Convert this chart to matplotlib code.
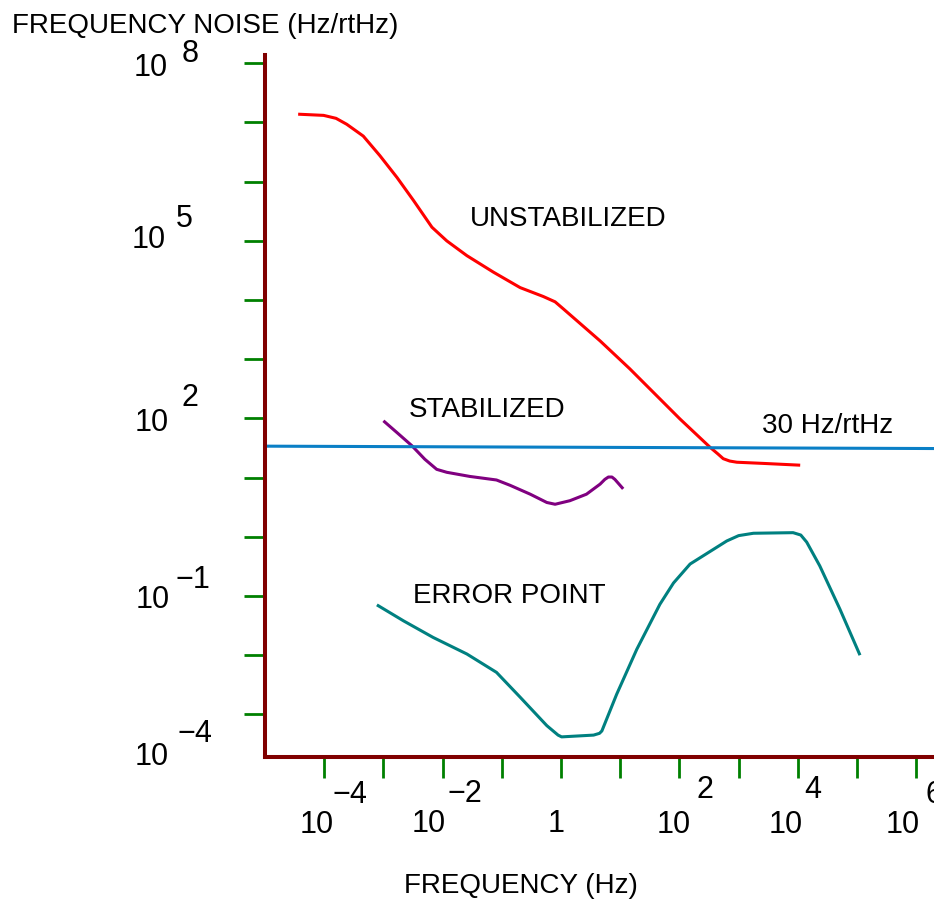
import numpy as np
import matplotlib
matplotlib.use("Agg")
import matplotlib.pyplot as plt
from matplotlib.transforms import blended_transform_factory

plt.rcParams["font.family"] = ["Liberation Sans", "DejaVu Sans"]

# ---- data (log10 of frequency / log10 of noise) ----
unstab_logf = [-4.44, -4.01, -3.80, -3.62, -3.34, -3.06, -2.77, -2.49, -2.18, -1.93, -1.59,
               -1.14, -0.69, -0.30, -0.10, 0.04, 0.66, 1.16, 1.67, 2.01, 2.52, 2.65, 2.74,
               2.85, 2.97, 3.42, 4.04]
unstab_logv = [7.14, 7.12, 7.07, 6.97, 6.77, 6.44, 6.07, 5.68, 5.23, 5.00, 4.75,
               4.47, 4.21, 4.06, 3.97, 3.85, 3.31, 2.84, 2.33, 1.99, 1.51, 1.40, 1.32,
               1.28, 1.26, 1.24, 1.21]

stab_logf = [-3.00, -2.77, -2.52, -2.30, -2.10, -1.93, -1.54, -1.09, -0.86, -0.52,
             -0.24, -0.10, 0.15, 0.43, 0.66, 0.74, 0.80, 0.86, 0.91, 1.05]
stab_logv = [1.96, 1.76, 1.54, 1.31, 1.14, 1.09, 1.02, 0.96, 0.87, 0.72,
             0.58, 0.55, 0.61, 0.72, 0.89, 0.97, 1.01, 1.01, 0.97, 0.81]

err_logf = [-3.11, -2.66, -2.16, -1.59, -1.09, -0.69, -0.24, -0.05, 0.01, 0.55, 0.65, 0.69,
            0.94, 1.28, 1.67, 1.90, 2.18, 2.80, 3.00, 3.25, 3.92, 4.05, 4.15, 4.37, 4.71, 5.05]
err_logv = [-1.15, -1.42, -1.70, -1.98, -2.29, -2.71, -3.19, -3.35, -3.38, -3.35, -3.32, -3.28,
            -2.66, -1.90, -1.14, -0.78, -0.46, -0.07, 0.02, 0.06, 0.07, 0.03, -0.09, -0.49, -1.22, -2.00]

ref_f = [1e-5, 2e6]
ref_v = [34.0, 31.0]

x_tick_exps = list(range(-4, 7))
y_tick_exps = list(range(-3, 9))

# tick label texts: (exponent, base text, exponent text)
x_labels = [(-4, "10", "\u22124"), (-2, "10", "\u22122"), (0, "1", ""),
            (2, "10", "2"), (4, "10", "4"), (6, "10", "6")]
y_labels = [(8, "10", "8"), (5, "10", "5"), (2, "10", "2"),
            (-1, "10", "\u22121"), (-4, "10", "\u22124")]

# ---- layout (pixel offsets of the hand-placed labels) ----
x_label_off = {-4: (-7.6, -75, 25.9, -45), -2: (-14.1, -74, 22.4, -44),
               0: (-5, -74, 0, 0), 2: (-5.4, -75, 25.6, -40),
               4: (-12.4, -75, 14.6, -40), 6: (-13.8, -75, 9.5, -45)}
y_label_off = {8: (-114, -11.9, -75, 2.1), 5: (-116, -6.3, -80.5, 14.7),
               2: (-113.5, -11.7, -75, 13.3), -1: (-112.5, -11.1, -72.5, 8.9),
               -4: (-113.5, 9.5, -70, 32.5)}

W, H = 934, 903
fig = plt.figure(figsize=(W / 100, H / 100), dpi=100)
ax = fig.add_axes([265 / W, (H - 758) / H, (W - 265) / W, (758 - 56) / H])
ax.set_xscale("log")
ax.set_yscale("log")
ax.set_xlim(10 ** -5.0, 10 ** 6.3)
ax.set_ylim(10 ** -3.72, 10 ** 8.14)

lw = 2.2
ax.plot(10 ** np.array(unstab_logf), 10 ** np.array(unstab_logv), color="#ff0000", lw=lw,
        solid_capstyle="butt", solid_joinstyle="round")
ax.plot(10 ** np.array(stab_logf), 10 ** np.array(stab_logv), color="#800080", lw=lw,
        solid_capstyle="butt", solid_joinstyle="round")
ax.plot(10 ** np.array(err_logf), 10 ** np.array(err_logv), color="#008080", lw=lw,
        solid_capstyle="butt", solid_joinstyle="round")
ax.plot(ref_f, ref_v, color="#0a7fc6", lw=lw, solid_capstyle="butt")

fs = 20
tfs = 22
ax.text(10 ** -1.54, 10 ** 5.265, "UNSTABILIZED", fontsize=fs, va="baseline", ha="left")
ax.text(10 ** -2.58, 10 ** 2.04, "STABILIZED", fontsize=fs, va="baseline", ha="left")
ax.text(10 ** 3.39, 10 ** 1.77, "30 Hz/rtHz", fontsize=fs, va="baseline", ha="left")
ax.text(10 ** -2.50, 10 ** -1.10, "ERROR POINT", fontsize=fs, va="baseline", ha="left")

# spines
for s in ["top", "right"]:
    ax.spines[s].set_visible(False)
for s in ["left", "bottom"]:
    ax.spines[s].set_color("#800000")
    ax.spines[s].set_linewidth(2.9)
    ax.spines[s].set_capstyle("projecting")

ax.set_xticks([10.0 ** e for e in x_tick_exps])
ax.set_yticks([10.0 ** e for e in y_tick_exps])
ax.minorticks_off()
ax.tick_params(axis="both", which="major", direction="out", length=15, width=2,
               color="#008000", labelbottom=False, labelleft=False)

# x tick labels
tx = blended_transform_factory(ax.transData, ax.transAxes)
for e, base, ex in x_labels:
    dxb, dyb, dxe, dye = x_label_off[e]
    ax.annotate(base, xy=(10.0 ** e, 0), xycoords=tx, xytext=(dxb, dyb),
                textcoords="offset pixels", ha="center", va="baseline",
                fontsize=tfs, annotation_clip=False)
    if ex:
        ax.annotate(ex, xy=(10.0 ** e, 0), xycoords=tx, xytext=(dxe, dye),
                    textcoords="offset pixels", ha="center" if e != 6 else "left",
                    va="baseline", fontsize=tfs, annotation_clip=False)

# y tick labels
ty = blended_transform_factory(ax.transAxes, ax.transData)
for e, base, ex in y_labels:
    dxb, dyb, dxe, dye = y_label_off[e]
    ax.annotate(base, xy=(0, 10.0 ** e), xycoords=ty, xytext=(dxb, dyb),
                textcoords="offset pixels", ha="center", va="baseline",
                fontsize=tfs, annotation_clip=False)
    ax.annotate(ex, xy=(0, 10.0 ** e), xycoords=ty, xytext=(dxe, dye),
                textcoords="offset pixels", ha="center", va="baseline",
                fontsize=tfs, annotation_clip=False)

fig.text(12 / W, 1 - 33 / H, "FREQUENCY NOISE (Hz/rtHz)", fontsize=fs,
         ha="left", va="baseline")
fig.text(521 / W, 1 - 893 / H, "FREQUENCY (Hz)", fontsize=fs,
         ha="center", va="baseline")

fig.savefig("out.png", dpi=100)
